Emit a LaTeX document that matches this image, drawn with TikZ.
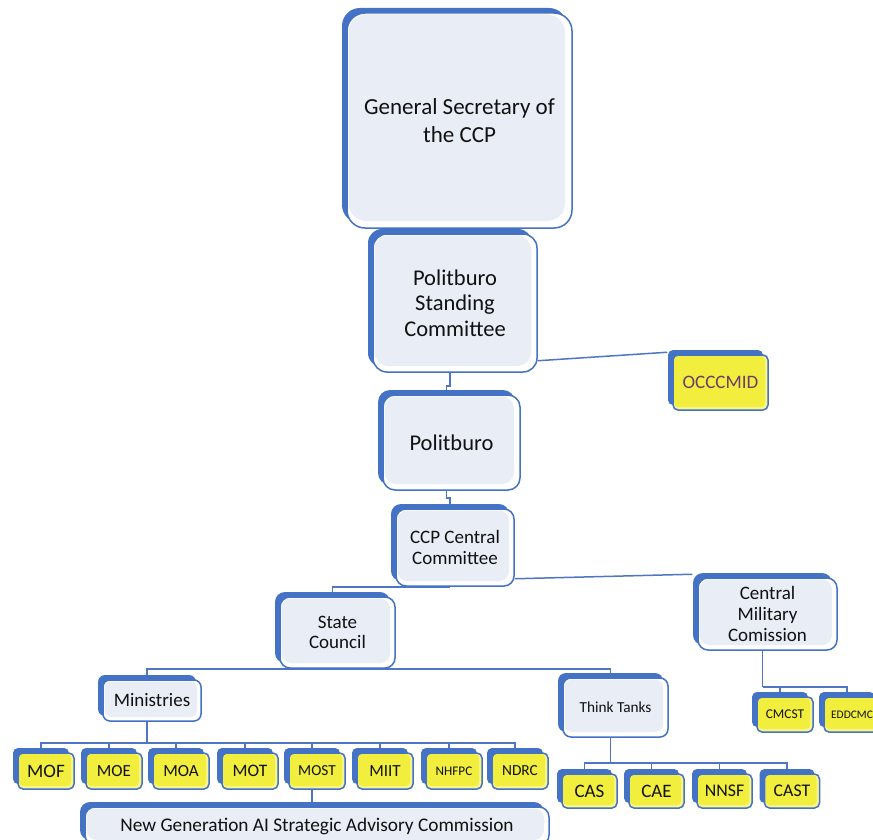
\documentclass[tikz,border=0pt]{standalone}
\usepackage{fontspec}
\setmainfont{Carlito}
\usetikzlibrary{shadows,backgrounds}
\definecolor{sblue}{HTML}{4472C4}
\definecolor{lblue}{HTML}{4F76C4}
\definecolor{boxfill}{HTML}{E9EDF6}
\definecolor{yfill}{HTML}{F2EE3E}
\definecolor{yring}{HTML}{F8F58E}
\definecolor{occtext}{HTML}{6A3D6A}
\definecolor{txt}{HTML}{111111}
\tikzset{
  nodebase/.style={draw=sblue, line width=1.5pt, inner sep=0pt, align=center, text=txt,
    general shadow={fill=sblue, shadow xshift=-5pt, shadow yshift=5pt}},
  lbox/.style 2 args={nodebase, rounded corners=#1, fill=white,
    path picture={\fill[boxfill, rounded corners=#1]
      ([shift={(1.5pt,#2)}]path picture bounding box.south west) rectangle
      ([shift={(-#2,-1.5pt)}]path picture bounding box.north east);}},
  ybox/.style={nodebase, rounded corners=5pt, fill=yring,
    path picture={\fill[yfill, rounded corners=4pt]
      ([shift={(1pt,3pt)}]path picture bounding box.south west) rectangle
      ([shift={(-3pt,-1pt)}]path picture bounding box.north east);}},
  minbox/.style={ybox, minimum width=56pt, minimum height=36pt},
  ttbox/.style={ybox, minimum width=55pt, minimum height=34pt},
  conn/.style={draw=lblue, line width=1.5pt}
}
\begin{document}
\begin{tikzpicture}[x=1pt,y=-1pt]
\useasboundingbox (0,0) rectangle (873,840);
% main boxes
\node[lbox={18pt}{7pt}, minimum width=225pt, minimum height=215pt, font=\fontsize{23}{28}\selectfont] (gs) at (459.5,120.5) {General Secretary of\\the CCP};
\node[lbox={14pt}{6pt}, minimum width=164pt, minimum height=138pt, font=\fontsize{22.5}{25.5}\selectfont] (psc) at (455,303) {Politburo\\Standing\\Committee};
\node[ybox, minimum width=95pt, minimum height=55pt, text=occtext, font=\fontsize{19}{21}\selectfont] (occ) at (720.5,382.5) {OCCCMID};
\node[lbox={12pt}{6pt}, minimum width=137pt, minimum height=95pt, font=\fontsize{22.5}{25}\selectfont] (pol) at (451.5,442.5) {Politburo};
\node[lbox={10pt}{5pt}, minimum width=118pt, minimum height=77pt, font=\fontsize{19}{20.7}\selectfont] (ccp) at (455,547.5) {CCP Central\\Committee};
\node[lbox={10pt}{5pt}, minimum width=115pt, minimum height=71pt, font=\fontsize{19}{20.5}\selectfont] (state) at (337.5,632.5) {State\\Council};
\node[lbox={10pt}{5pt}, minimum width=139pt, minimum height=72pt, font=\fontsize{19}{21.2}\selectfont] (cmc) at (767.5,614) {Central\\Military\\Comission};
\node[lbox={7pt}{4pt}, minimum width=98pt, minimum height=41pt, font=\fontsize{19}{21}\selectfont] (min) at (152,700.5) {Ministries};
\node[lbox={8pt}{5pt}, minimum width=105pt, minimum height=59pt, font=\fontsize{15.3}{17}\selectfont] (tt) at (615.5,707.5) {Think Tanks};
% CMC children
\node[ybox, minimum width=56pt, minimum height=35pt, font=\fontsize{13.4}{15}\selectfont] (cmcst) at (785,714.5) {CMCST};
\node[ybox, minimum width=56pt, minimum height=35pt, font=\fontsize{11.5}{13}\selectfont] (eddcmc) at (852,714.5) {EDDCMC};
% ministries
\node[minbox, font=\fontsize{19}{21}\selectfont] (mof) at (46,771) {MOF};
\node[minbox, font=\fontsize{17}{19}\selectfont] (moe) at (114,771) {MOE};
\node[minbox, font=\fontsize{17}{19}\selectfont] (moa) at (181,771) {MOA};
\node[minbox, font=\fontsize{17.5}{19}\selectfont] (mot) at (250,771) {MOT};
\node[minbox, font=\fontsize{15.3}{17}\selectfont] (most) at (317,771) {MOST};
\node[minbox, font=\fontsize{17}{19}\selectfont] (miit) at (385,771) {MIIT};
\node[minbox, font=\fontsize{13.2}{15}\selectfont] (nhfpc) at (454,771) {NHFPC};
\node[minbox, font=\fontsize{15.4}{17}\selectfont] (ndrc) at (520,771) {NDRC};
% think tanks
\node[ttbox, font=\fontsize{19}{21}\selectfont] (cas) at (589.5,791) {CAS};
\node[ttbox, font=\fontsize{19}{21}\selectfont] (cae) at (656.5,791) {CAE};
\node[ttbox, font=\fontsize{17.8}{20}\selectfont] (nnsf) at (724.5,791) {NNSF};
\node[ttbox, font=\fontsize{17.8}{20}\selectfont] (cast) at (792,791) {CAST};
% advisory commission
\node[lbox={10pt}{5pt}, minimum width=464pt, minimum height=38pt, font=\fontsize{19.3}{21}\selectfont] (ng) at (317,826) {\raisebox{3pt}{New Generation AI Strategic Advisory Commission}};
% connectors
\begin{scope}[on background layer]
\fill[white] (0,0) rectangle (873,840);
\draw[conn] ([xshift=-5pt]gs.south) -- ([xshift=-5pt]gs.south |- psc.north);
\draw[conn] ([xshift=-5pt]psc.south) -- ++(0,13) -| ([xshift=-5pt]pol.north);
\draw[conn] ([xshift=-5pt]pol.south) -- ++(0,7) -| ([xshift=-5pt]ccp.north);
\draw[conn] ([yshift=12pt]psc.south east) -- ([shift={(-5pt,2pt)}]occ.north west);
\draw[conn] ([xshift=-5pt]ccp.south) -| ([xshift=-5pt]state.north);
\draw[conn] ([yshift=8pt]ccp.south east) -- ([shift={(-5pt,3pt)}]cmc.north west);
\draw[conn] ([xshift=-5pt]min.north) |- ([xshift=-5pt]state.south) -| ([xshift=-5pt]tt.north);
\draw[conn] ([xshift=-5pt]min.south) -- ++(0,21) coordinate (mb);
\foreach \nm in {mof,moe,moa,mot,most,miit,nhfpc,ndrc} \draw[conn] (mb) -| ([xshift=-5pt]\nm.north);
\draw[conn] ([xshift=-5pt]tt.south) -- ++(0,25) coordinate (tb);
\foreach \nm in {cas,cae,nnsf,cast} \draw[conn] (tb) -| ([xshift=-5pt]\nm.north);
\draw[conn] ([xshift=-5pt]cmc.south) -- ++(0,36) coordinate (cb);
\foreach \nm in {cmcst,eddcmc} \draw[conn] (cb) -| ([xshift=-5pt]\nm.north);
\draw[conn] ([xshift=-5pt]most.south) -- ([xshift=-5pt]most.south |- ng.north);
\end{scope}
\end{tikzpicture}
\end{document}
